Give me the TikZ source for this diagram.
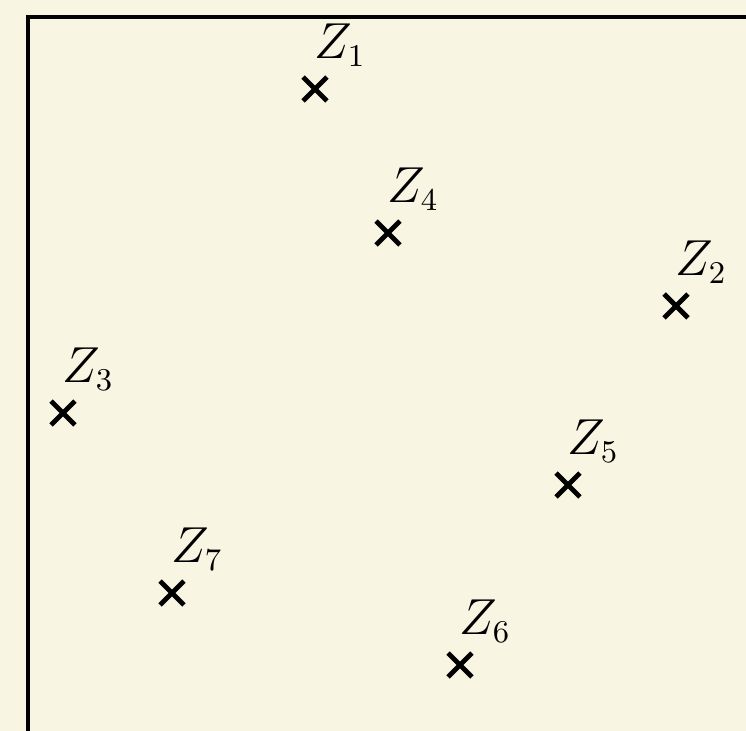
\documentclass[tikz,border=0pt]{standalone}
\usepackage{amsmath}
\usetikzlibrary{calc, shapes.misc}
\definecolor{paper}{HTML}{F8F5E3}

\begin{document}
\begin{tikzpicture}[x=0.01cm, y=-0.01cm, thick,
  pt/.style={cross out, draw, line width=1.4pt, minimum size=0.19cm, inner sep=0pt},
  lbl/.style={font=\fontsize{13.5}{16}\selectfont, inner sep=0pt}]
  \fill[paper] (0,0) rectangle (746,731);
  \useasboundingbox (0,0) rectangle (746,731);
  \clip (0,0) rectangle (746,731);
  \draw[line width=0.9pt] (28,17) rectangle (820,820);
  % Punkte
  \node[pt] (z1) at (315,89) {};
  \node[pt] (z2) at (676,306) {};
  \node[pt] (z3) at (63,413) {};
  \node[pt] (z4) at (388,233) {};
  \node[pt] (z5) at (568,485) {};
  \node[pt] (z6) at (460,665) {};
  \node[pt] (z7) at (172,593) {};
  \node[lbl] (l1) at ($(z1)+(25,-44)$) {$Z_1$};
  \node[lbl] (l2) at ($(z2)+(25,-44)$) {$Z_2$};
  \node[lbl] (l3) at ($(z3)+(25,-44)$) {$Z_3$};
  \node[lbl] (l4) at ($(z4)+(25,-44)$) {$Z_4$};
  \node[lbl] (l5) at ($(z5)+(25,-44)$) {$Z_5$};
  \node[lbl] (l6) at ($(z6)+(25,-44)$) {$Z_6$};
  \node[lbl] (l7) at ($(z7)+(25,-44)$) {$Z_7$};
\end{tikzpicture}
\end{document}
